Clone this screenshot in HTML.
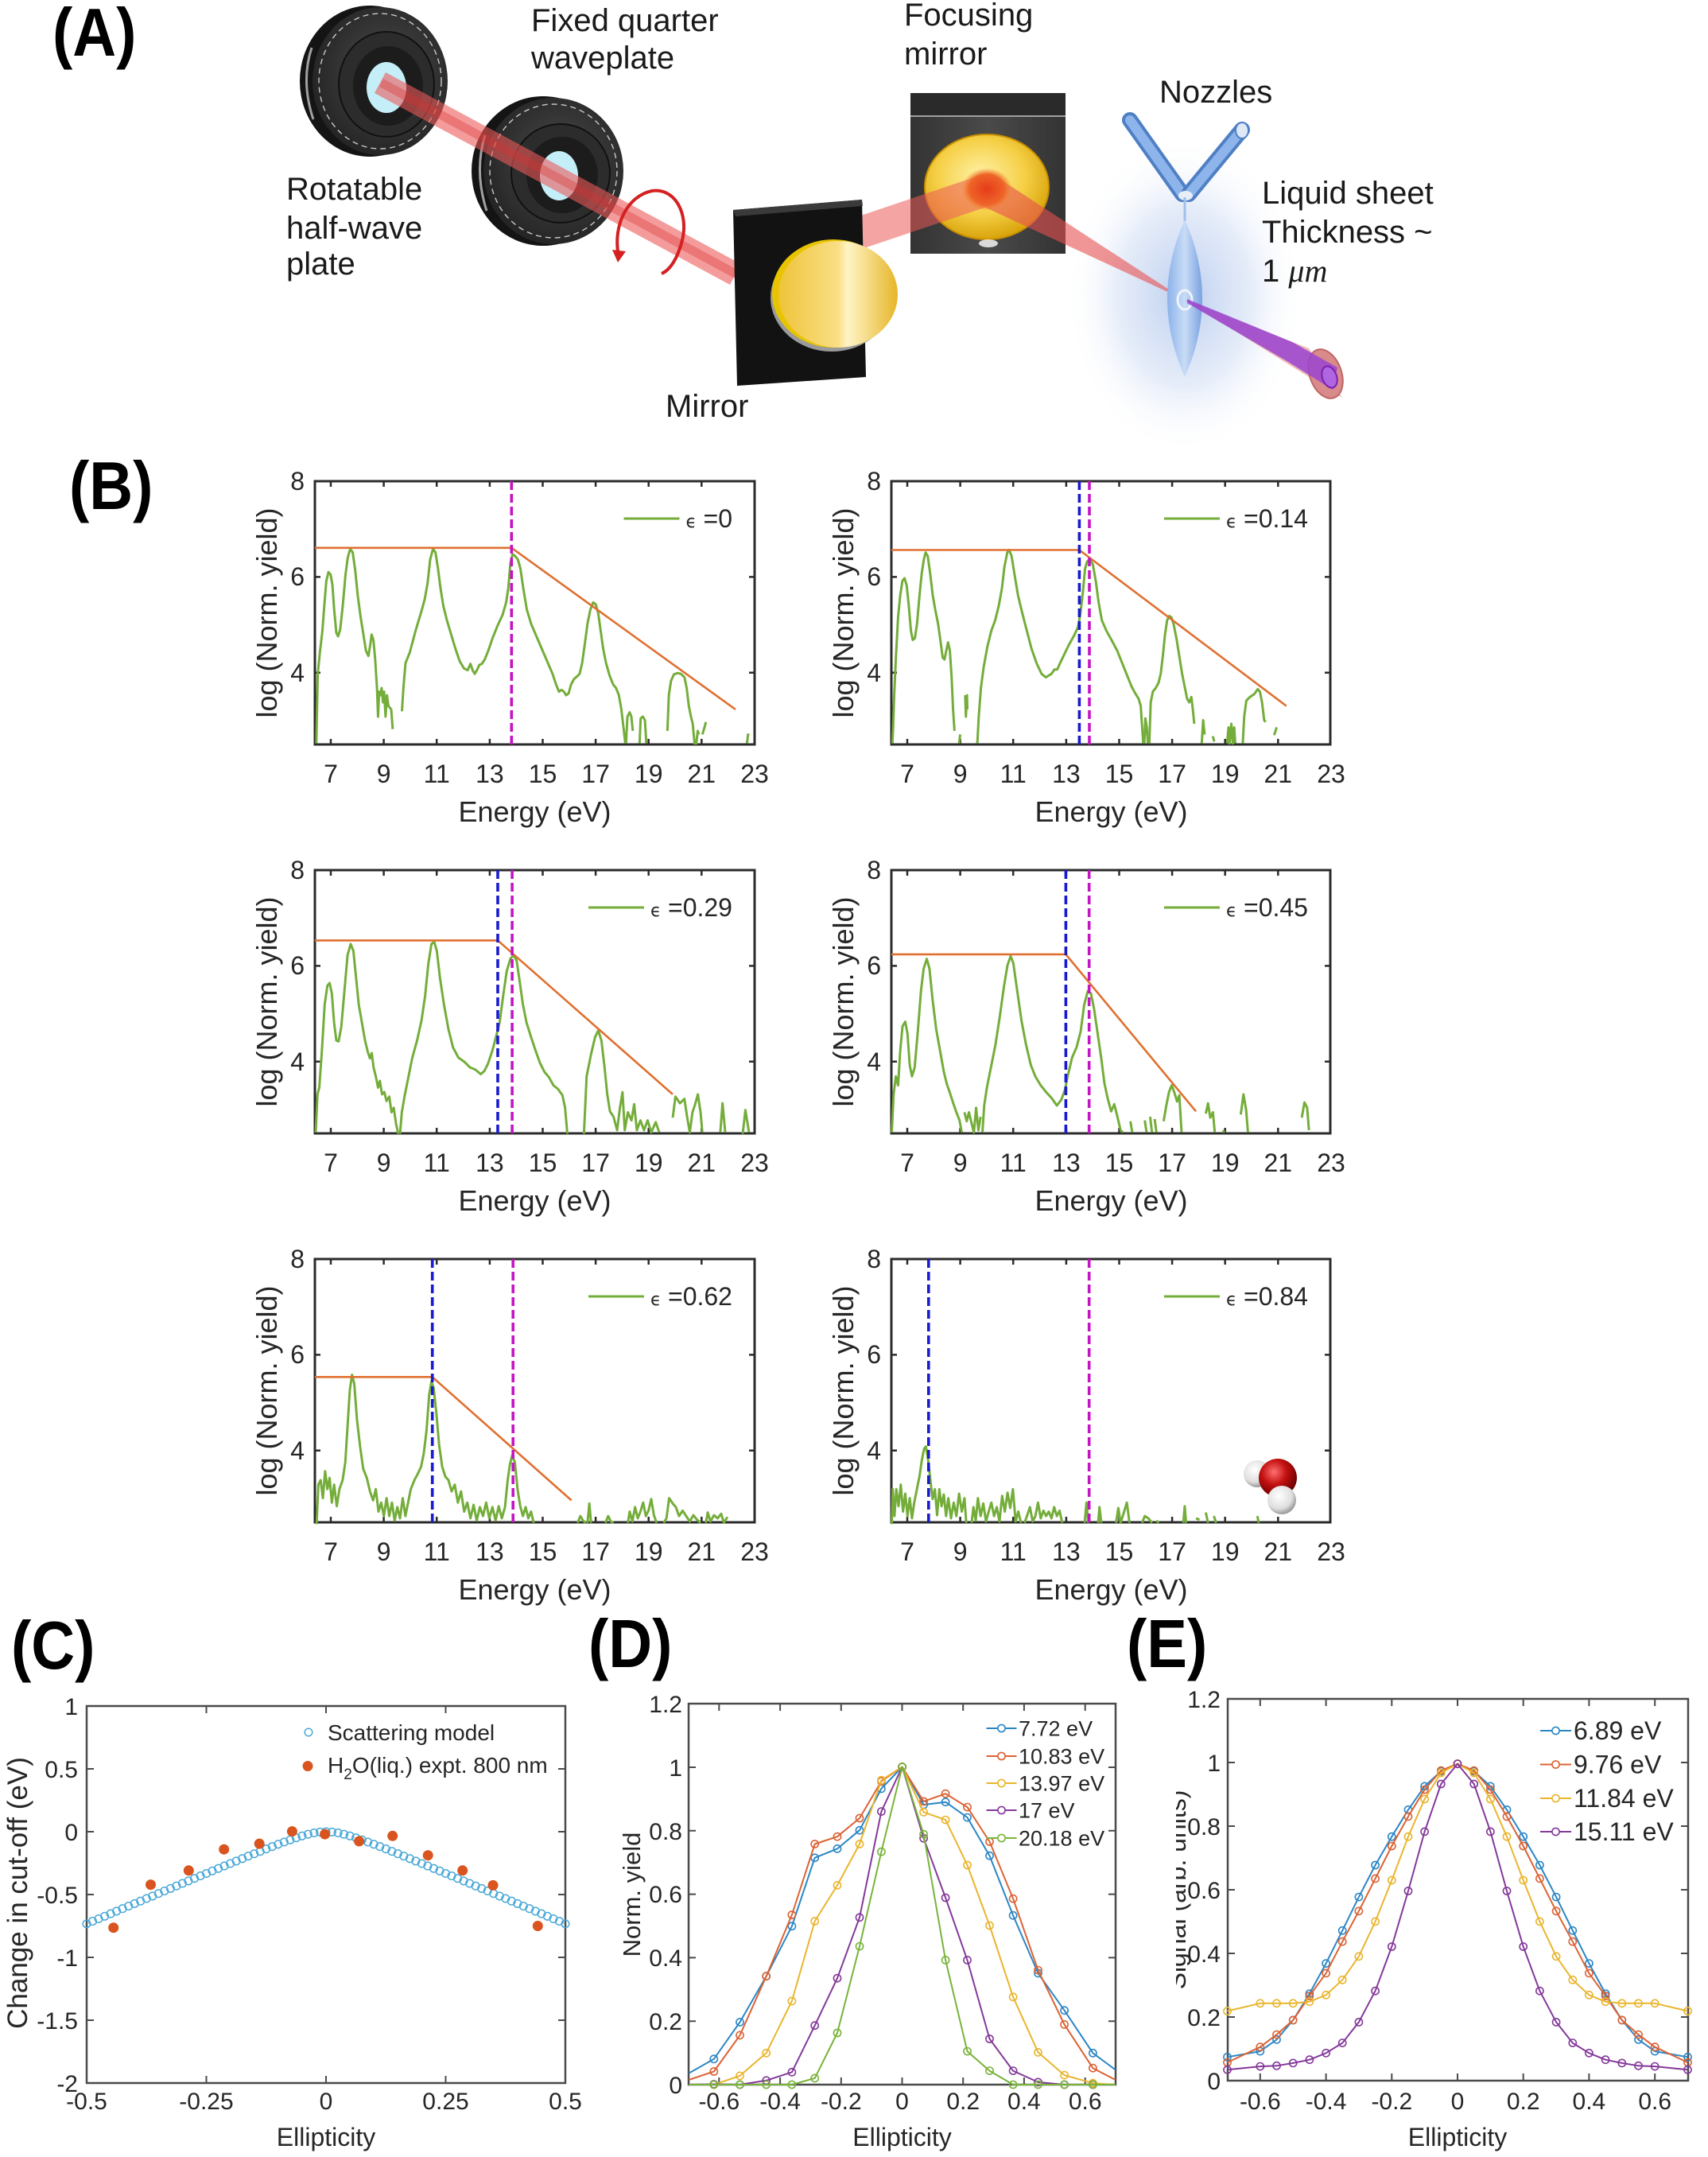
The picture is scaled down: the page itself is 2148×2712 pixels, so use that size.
<!DOCTYPE html>
<html><head><meta charset="utf-8"><style>html,body{margin:0;padding:0;background:#fff}svg{display:block}</style></head>
<body>
<svg xmlns="http://www.w3.org/2000/svg" width="2148" height="2712" viewBox="0 0 2148 2712" font-family="'Liberation Sans', Arial, sans-serif">
<defs>
<radialGradient id="glow" cx="0.5" cy="0.5" r="0.5"><stop offset="0" stop-color="#b7cbee" stop-opacity="0.95"/><stop offset="0.55" stop-color="#d3dff5" stop-opacity="0.6"/><stop offset="1" stop-color="#ffffff" stop-opacity="0"/></radialGradient>
<radialGradient id="gold1" cx="0.45" cy="0.4" r="0.6"><stop offset="0" stop-color="#fff2a8"/><stop offset="0.6" stop-color="#f5cf45"/><stop offset="1" stop-color="#d9a40c"/></radialGradient>
<linearGradient id="gold2" x1="0" y1="0" x2="1" y2="0"><stop offset="0" stop-color="#efc43a"/><stop offset="0.5" stop-color="#f9df85"/><stop offset="0.58" stop-color="#fff4c6"/><stop offset="1" stop-color="#e6b628"/></linearGradient>
<radialGradient id="disk" cx="0.55" cy="0.45" r="0.6"><stop offset="0" stop-color="#4d4d4d"/><stop offset="1" stop-color="#222"/></radialGradient>
<radialGradient id="oxy" cx="0.4" cy="0.35" r="0.65"><stop offset="0" stop-color="#ff7070"/><stop offset="0.5" stop-color="#c41010"/><stop offset="1" stop-color="#6a0000"/></radialGradient>
<radialGradient id="hyd" cx="0.4" cy="0.35" r="0.65"><stop offset="0" stop-color="#ffffff"/><stop offset="0.7" stop-color="#dedede"/><stop offset="1" stop-color="#9a9a9a"/></radialGradient>
<radialGradient id="spot"><stop offset="0" stop-color="#e63c1a"/><stop offset="0.7" stop-color="#ee6428"/><stop offset="1" stop-color="#f08a30" stop-opacity="0"/></radialGradient>
<linearGradient id="sheet" x1="0" y1="0" x2="1" y2="0"><stop offset="0" stop-color="#8cb2ea"/><stop offset="0.5" stop-color="#c8dcf6"/><stop offset="1" stop-color="#7aa3e0"/></linearGradient>
<linearGradient id="box" x1="0" y1="0" x2="1" y2="0"><stop offset="0" stop-color="#333"/><stop offset="0.5" stop-color="#4a4a4a"/><stop offset="1" stop-color="#333"/></linearGradient>
<clipPath id="clipE"><rect x="1479" y="2100" width="100" height="520"/></clipPath>
<marker id="mC" markerUnits="userSpaceOnUse" markerWidth="14" markerHeight="14" refX="7" refY="7"><circle cx="7" cy="7" r="4.8" fill="none" stroke="#4aa8d8" stroke-width="1.5"/></marker>
<marker id="mB" markerUnits="userSpaceOnUse" markerWidth="14" markerHeight="14" refX="7" refY="7"><circle cx="7" cy="7" r="4.6" fill="none" stroke="#2b86c5" stroke-width="1.6"/></marker>
<marker id="mO" markerUnits="userSpaceOnUse" markerWidth="14" markerHeight="14" refX="7" refY="7"><circle cx="7" cy="7" r="4.6" fill="none" stroke="#dc6234" stroke-width="1.6"/></marker>
<marker id="mY" markerUnits="userSpaceOnUse" markerWidth="14" markerHeight="14" refX="7" refY="7"><circle cx="7" cy="7" r="4.6" fill="none" stroke="#eab52e" stroke-width="1.6"/></marker>
<marker id="mP" markerUnits="userSpaceOnUse" markerWidth="14" markerHeight="14" refX="7" refY="7"><circle cx="7" cy="7" r="4.6" fill="none" stroke="#84399a" stroke-width="1.6"/></marker>
<marker id="mG" markerUnits="userSpaceOnUse" markerWidth="14" markerHeight="14" refX="7" refY="7"><circle cx="7" cy="7" r="4.6" fill="none" stroke="#78b33a" stroke-width="1.6"/></marker>
</defs>
<rect width="2148" height="2712" fill="#fff"/>

<!-- ================= PANEL A ================= -->
<ellipse cx="1490" cy="372" rx="150" ry="200" fill="url(#glow)"/>
<!-- waveplate 1 -->
<ellipse cx="465" cy="102" rx="88" ry="95" fill="#141414"/>
<ellipse cx="478" cy="102" rx="85" ry="93" fill="url(#disk)"/>
<ellipse cx="478" cy="102" rx="77" ry="85" fill="none" stroke="#c8c8c8" stroke-width="1.4" stroke-dasharray="7 5"/>
<ellipse cx="486" cy="106" rx="60" ry="66" fill="#2c2c2c" stroke="#111" stroke-width="2"/>
<ellipse cx="488" cy="108" rx="44" ry="50" fill="#1c1c1c"/>
<ellipse cx="486" cy="110" rx="25" ry="32" fill="#c4eef8"/>
<path d="M392,60 Q378,102 394,150" fill="none" stroke="#ddd" stroke-width="3" opacity="0.7"/>
<!-- waveplate 2 -->
<ellipse cx="683" cy="215" rx="90" ry="94" fill="#141414"/>
<ellipse cx="696" cy="215" rx="88" ry="92" fill="url(#disk)"/>
<ellipse cx="696" cy="215" rx="80" ry="84" fill="none" stroke="#c8c8c8" stroke-width="1.4" stroke-dasharray="7 5"/>
<ellipse cx="705" cy="218" rx="62" ry="62" fill="#2c2c2c" stroke="#111" stroke-width="2"/>
<ellipse cx="707" cy="220" rx="45" ry="48" fill="#1c1c1c"/>
<ellipse cx="703" cy="221" rx="24" ry="31" fill="#c4eef8"/>
<path d="M610,170 Q596,215 612,265" fill="none" stroke="#ddd" stroke-width="3" opacity="0.7"/>
<!-- beam 1 -->
<polygon points="485,91 932,332 918,358 471,117" fill="#ec5a5a" opacity="0.6"/>
<polygon points="482,99 929,340 924,350 477,109" fill="#d93030" opacity="0.35"/>
<!-- circular arrow -->
<path d="M778,322 C770,282 790,246 820,240 C850,236 866,270 858,302 C852,326 842,340 832,344" fill="none" stroke="#d42020" stroke-width="4"/>
<polygon points="770,314 787,316 777,330" fill="#d42020"/>
<!-- focusing mirror -->
<rect x="1145" y="117" width="195" height="202" fill="url(#box)"/>
<rect x="1145" y="117" width="195" height="28" fill="#2a2a2a"/>
<line x1="1145" y1="146" x2="1340" y2="146" stroke="#a0a0a0" stroke-width="2"/>
<ellipse cx="1241" cy="235" rx="78" ry="66" fill="url(#gold1)"/>
<ellipse cx="1241" cy="235" rx="78" ry="66" fill="none" stroke="#c98e00" stroke-width="2"/>
<ellipse cx="1243" cy="306" rx="12" ry="5" fill="#fff" opacity="0.8"/>
<!-- beam 2 -->
<polygon points="1053,281 1234,220 1247,258 1066,319" fill="#ec5a5a" opacity="0.55"/>
<!-- beam 3 -->
<polygon points="1251,221 1231,257 1490,377" fill="#e85050" opacity="0.6"/>
<ellipse cx="1241" cy="238" rx="32" ry="27" fill="url(#spot)"/>
<!-- mirror block -->
<polygon points="922,264 1084,251 1089,474 927,485" fill="#121212"/>
<polygon points="922,264 1084,251 1085,259 925,272" fill="#3a3a3a"/>
<ellipse cx="1046" cy="374" rx="77" ry="68" fill="#9a9a9a"/>
<ellipse cx="1048" cy="369" rx="77" ry="68" fill="#e8c400"/>
<ellipse cx="1054" cy="370" rx="75" ry="67" fill="url(#gold2)"/>
<!-- nozzles -->
<line x1="1421" y1="151" x2="1487" y2="244" stroke="#4f7fc4" stroke-width="20" stroke-linecap="round"/>
<line x1="1421" y1="151" x2="1487" y2="244" stroke="#8db5ec" stroke-width="12" stroke-linecap="round"/>
<line x1="1562" y1="163" x2="1495" y2="244" stroke="#4f7fc4" stroke-width="20" stroke-linecap="round"/>
<line x1="1562" y1="163" x2="1495" y2="244" stroke="#8db5ec" stroke-width="12" stroke-linecap="round"/>
<ellipse cx="1562" cy="164" rx="8" ry="10" fill="#dfe9f8" stroke="#4f7fc4" stroke-width="2"/>
<ellipse cx="1491" cy="246" rx="9" ry="6" fill="#e8eef8"/>
<line x1="1490" y1="248" x2="1490" y2="278" stroke="#9ec0ea" stroke-width="3"/>
<!-- sheet -->
<path d="M1490,276 Q1534,375 1490,474 Q1446,375 1490,276 Z" fill="url(#sheet)"/>
<ellipse cx="1490" cy="377" rx="9" ry="12" fill="none" stroke="#eef4fc" stroke-width="3"/>
<!-- output cone -->
<polygon points="1490,377 1646,438 1688,500" fill="#e07070" opacity="0.5"/>
<ellipse cx="1667" cy="470" rx="20" ry="32" transform="rotate(-20 1667 470)" fill="#d98a8a" stroke="#c06565" stroke-width="2"/>
<polygon points="1493,376 1625,430 1682,462 1676,490 1620,455 1493,381" fill="#9a44d0" opacity="0.85"/>
<ellipse cx="1672" cy="474" rx="9" ry="14" transform="rotate(-20 1672 474)" fill="#b066e0" stroke="#7a20b0" stroke-width="2"/>

<!-- Panel A text -->
<g font-size="40" fill="#1a1a1a">
<text x="668" y="39">Fixed quarter</text>
<text x="668" y="86">waveplate</text>
<text x="1137" y="32">Focusing</text>
<text x="1137" y="81">mirror</text>
<text x="1458" y="129">Nozzles</text>
<text x="360" y="251">Rotatable</text>
<text x="360" y="300">half-wave</text>
<text x="360" y="345">plate</text>
<text x="1587" y="256">Liquid sheet</text>
<text x="1587" y="305">Thickness ~</text>
<text x="1587" y="354">1 <tspan font-family="'Liberation Serif', serif" font-style="italic">μm</tspan></text>
<text x="837" y="524">Mirror</text>
</g>

<!-- Panel labels -->
<g font-weight="bold" fill="#000" font-size="76">
<text transform="translate(66,70) scale(1,1.12)">(A)</text>
<text transform="translate(87,640) scale(1,1.12)">(B)</text>
<text transform="translate(14,2098) scale(1,1.12)">(C)</text>
<text transform="translate(740,2096) scale(1,1.12)">(D)</text>
<text transform="translate(1417,2096) scale(1,1.12)">(E)</text>
</g>

<!-- ================= PANEL B skeletons ================= -->
<g fill="#262626">
<g>
<rect x="396" y="605" width="553" height="331" fill="none" stroke="#2b2b2b" stroke-width="3"/>
<path d="M416 936v-7M482.6 936v-7M549.2 936v-7M615.9 936v-7M682.5 936v-7M749.1 936v-7M815.7 936v-7M882.3 936v-7M416 605v7M482.6 605v7M549.2 605v7M615.9 605v7M682.5 605v7M749.1 605v7M815.7 605v7M882.3 605v7M396 725.4h7M396 845.7h7M949 725.4h-7M949 845.7h-7" stroke="#2b2b2b" stroke-width="2.5"/>
<g font-size="32" text-anchor="middle"><text x="416" y="984">7</text><text x="482.6" y="984">9</text><text x="549.2" y="984">11</text><text x="615.9" y="984">13</text><text x="682.5" y="984">15</text><text x="749.1" y="984">17</text><text x="815.7" y="984">19</text><text x="882.3" y="984">21</text><text x="949" y="984">23</text></g>
<g font-size="32" text-anchor="end"><text x="383" y="616">8</text><text x="383" y="736">6</text><text x="383" y="857">4</text></g>
<text x="672.5" y="1033" font-size="36" text-anchor="middle">Energy (eV)</text>
<text transform="translate(348,770.5) rotate(-90)" font-size="36" text-anchor="middle">log (Norm. yield)</text>
</g>
<g transform="translate(725,0)">
<rect x="396" y="605" width="552" height="331" fill="none" stroke="#2b2b2b" stroke-width="3"/>
<path d="M416 936v-7M482.6 936v-7M549.2 936v-7M615.9 936v-7M682.5 936v-7M749.1 936v-7M815.7 936v-7M882.3 936v-7M416 605v7M482.6 605v7M549.2 605v7M615.9 605v7M682.5 605v7M749.1 605v7M815.7 605v7M882.3 605v7M396 725.4h7M396 845.7h7M948 725.4h-7M948 845.7h-7" stroke="#2b2b2b" stroke-width="2.5"/>
<g font-size="32" text-anchor="middle"><text x="416" y="984">7</text><text x="482.6" y="984">9</text><text x="549.2" y="984">11</text><text x="615.9" y="984">13</text><text x="682.5" y="984">15</text><text x="749.1" y="984">17</text><text x="815.7" y="984">19</text><text x="882.3" y="984">21</text><text x="949" y="984">23</text></g>
<g font-size="32" text-anchor="end"><text x="383" y="616">8</text><text x="383" y="736">6</text><text x="383" y="857">4</text></g>
<text x="672.5" y="1033" font-size="36" text-anchor="middle">Energy (eV)</text>
<text transform="translate(348,770.5) rotate(-90)" font-size="36" text-anchor="middle">log (Norm. yield)</text>
</g>
<g transform="translate(0,489)">
<rect x="396" y="605" width="553" height="331" fill="none" stroke="#2b2b2b" stroke-width="3"/>
<path d="M416 936v-7M482.6 936v-7M549.2 936v-7M615.9 936v-7M682.5 936v-7M749.1 936v-7M815.7 936v-7M882.3 936v-7M416 605v7M482.6 605v7M549.2 605v7M615.9 605v7M682.5 605v7M749.1 605v7M815.7 605v7M882.3 605v7M396 725.4h7M396 845.7h7M949 725.4h-7M949 845.7h-7" stroke="#2b2b2b" stroke-width="2.5"/>
<g font-size="32" text-anchor="middle"><text x="416" y="984">7</text><text x="482.6" y="984">9</text><text x="549.2" y="984">11</text><text x="615.9" y="984">13</text><text x="682.5" y="984">15</text><text x="749.1" y="984">17</text><text x="815.7" y="984">19</text><text x="882.3" y="984">21</text><text x="949" y="984">23</text></g>
<g font-size="32" text-anchor="end"><text x="383" y="616">8</text><text x="383" y="736">6</text><text x="383" y="857">4</text></g>
<text x="672.5" y="1033" font-size="36" text-anchor="middle">Energy (eV)</text>
<text transform="translate(348,770.5) rotate(-90)" font-size="36" text-anchor="middle">log (Norm. yield)</text>
</g>
<g transform="translate(725,489)">
<rect x="396" y="605" width="552" height="331" fill="none" stroke="#2b2b2b" stroke-width="3"/>
<path d="M416 936v-7M482.6 936v-7M549.2 936v-7M615.9 936v-7M682.5 936v-7M749.1 936v-7M815.7 936v-7M882.3 936v-7M416 605v7M482.6 605v7M549.2 605v7M615.9 605v7M682.5 605v7M749.1 605v7M815.7 605v7M882.3 605v7M396 725.4h7M396 845.7h7M948 725.4h-7M948 845.7h-7" stroke="#2b2b2b" stroke-width="2.5"/>
<g font-size="32" text-anchor="middle"><text x="416" y="984">7</text><text x="482.6" y="984">9</text><text x="549.2" y="984">11</text><text x="615.9" y="984">13</text><text x="682.5" y="984">15</text><text x="749.1" y="984">17</text><text x="815.7" y="984">19</text><text x="882.3" y="984">21</text><text x="949" y="984">23</text></g>
<g font-size="32" text-anchor="end"><text x="383" y="616">8</text><text x="383" y="736">6</text><text x="383" y="857">4</text></g>
<text x="672.5" y="1033" font-size="36" text-anchor="middle">Energy (eV)</text>
<text transform="translate(348,770.5) rotate(-90)" font-size="36" text-anchor="middle">log (Norm. yield)</text>
</g>
<g transform="translate(0,978)">
<rect x="396" y="605" width="553" height="331" fill="none" stroke="#2b2b2b" stroke-width="3"/>
<path d="M416 936v-7M482.6 936v-7M549.2 936v-7M615.9 936v-7M682.5 936v-7M749.1 936v-7M815.7 936v-7M882.3 936v-7M416 605v7M482.6 605v7M549.2 605v7M615.9 605v7M682.5 605v7M749.1 605v7M815.7 605v7M882.3 605v7M396 725.4h7M396 845.7h7M949 725.4h-7M949 845.7h-7" stroke="#2b2b2b" stroke-width="2.5"/>
<g font-size="32" text-anchor="middle"><text x="416" y="984">7</text><text x="482.6" y="984">9</text><text x="549.2" y="984">11</text><text x="615.9" y="984">13</text><text x="682.5" y="984">15</text><text x="749.1" y="984">17</text><text x="815.7" y="984">19</text><text x="882.3" y="984">21</text><text x="949" y="984">23</text></g>
<g font-size="32" text-anchor="end"><text x="383" y="616">8</text><text x="383" y="736">6</text><text x="383" y="857">4</text></g>
<text x="672.5" y="1033" font-size="36" text-anchor="middle">Energy (eV)</text>
<text transform="translate(348,770.5) rotate(-90)" font-size="36" text-anchor="middle">log (Norm. yield)</text>
</g>
<g transform="translate(725,978)">
<rect x="396" y="605" width="552" height="331" fill="none" stroke="#2b2b2b" stroke-width="3"/>
<path d="M416 936v-7M482.6 936v-7M549.2 936v-7M615.9 936v-7M682.5 936v-7M749.1 936v-7M815.7 936v-7M882.3 936v-7M416 605v7M482.6 605v7M549.2 605v7M615.9 605v7M682.5 605v7M749.1 605v7M815.7 605v7M882.3 605v7M396 725.4h7M396 845.7h7M948 725.4h-7M948 845.7h-7" stroke="#2b2b2b" stroke-width="2.5"/>
<g font-size="32" text-anchor="middle"><text x="416" y="984">7</text><text x="482.6" y="984">9</text><text x="549.2" y="984">11</text><text x="615.9" y="984">13</text><text x="682.5" y="984">15</text><text x="749.1" y="984">17</text><text x="815.7" y="984">19</text><text x="882.3" y="984">21</text><text x="949" y="984">23</text></g>
<g font-size="32" text-anchor="end"><text x="383" y="616">8</text><text x="383" y="736">6</text><text x="383" y="857">4</text></g>
<text x="672.5" y="1033" font-size="36" text-anchor="middle">Energy (eV)</text>
<text transform="translate(348,770.5) rotate(-90)" font-size="36" text-anchor="middle">log (Norm. yield)</text>
</g>
</g>

<!-- legends B -->
<g fill="#262626">
<line x1="784.5" y1="652" x2="854.5" y2="652" stroke="#74ad3a" stroke-width="3"/><text x="862.5" y="663" font-size="22" font-family="'DejaVu Sans', sans-serif">ϵ</text><text x="884.5" y="663" font-size="32">=0</text>
<line x1="1464" y1="652" x2="1534" y2="652" stroke="#74ad3a" stroke-width="3"/><text x="1542" y="663" font-size="22" font-family="'DejaVu Sans', sans-serif">ϵ</text><text x="1564" y="663" font-size="32">=0.14</text>
<line x1="740" y1="1141" x2="810" y2="1141" stroke="#74ad3a" stroke-width="3"/><text x="818" y="1152" font-size="22" font-family="'DejaVu Sans', sans-serif">ϵ</text><text x="840" y="1152" font-size="32">=0.29</text>
<line x1="1464" y1="1141" x2="1534" y2="1141" stroke="#74ad3a" stroke-width="3"/><text x="1542" y="1152" font-size="22" font-family="'DejaVu Sans', sans-serif">ϵ</text><text x="1564" y="1152" font-size="32">=0.45</text>
<line x1="740" y1="1630" x2="810" y2="1630" stroke="#74ad3a" stroke-width="3"/><text x="818" y="1641" font-size="22" font-family="'DejaVu Sans', sans-serif">ϵ</text><text x="840" y="1641" font-size="32">=0.62</text>
<line x1="1464" y1="1630" x2="1534" y2="1630" stroke="#74ad3a" stroke-width="3"/><text x="1542" y="1641" font-size="22" font-family="'DejaVu Sans', sans-serif">ϵ</text><text x="1564" y="1641" font-size="32">=0.84</text>
</g>

<!-- B1 curve -->
<g transform="translate(300,560) scale(0.4487)" fill="none" stroke="#74ad3a" stroke-width="6.7" stroke-linejoin="round">
<polyline points="218,835 222,640 228,580 235,520 241,440 246,380 252,355 258,362 263,390 268,460 274,525 279,535 285,515 292,450 300,360 306,315 313,290 320,300 327,350 334,420 342,480 350,530 357,575 364,590 369,560 373,530 378,545 383,600 388,680 391,760 394,690 398,700 401,680 405,720 408,690 412,760 416,700 420,730 424,735 428,740 432,795"/>
<polyline points="458,745 462,680 468,610 474,595 480,580 488,550 496,520 505,490 514,460 522,430 530,385 537,320 545,290 552,300 559,345 566,400 574,450 584,490 596,530 608,570 620,605 632,625 642,630 650,612 656,630 662,640 668,630 675,615 682,612 690,600 700,575 712,540 726,505 740,475 750,440 756,400 762,330 768,305 775,310 783,320 790,345 798,400 808,460 820,500 835,535 850,570 865,605 880,640 890,670 898,690 905,685 912,690 918,700 925,695 932,670 940,655 948,648 956,640 963,610 970,560 978,500 986,460 994,440 1001,445 1008,470 1015,520 1022,570 1030,610 1040,645 1050,670 1058,680 1066,700 1073,740 1080,800 1084,835"/>
<polyline points="1086,835 1090,760 1096,748 1101,760 1105,800"/>
<polyline points="1124,835 1127,765 1133,760 1139,770 1143,835"/>
<polyline points="1202,800 1206,700 1212,660 1220,642 1230,638 1240,640 1250,650 1256,680 1262,730 1268,760 1273,780 1278,835 1283,835 1287,800 1290,810"/>
<polyline points="1300,810 1306,790 1310,775"/>
<polyline points="1425,835 1428,810 1431,812"/>
</g>
<!-- B2 curve -->
<g transform="translate(1020,560) scale(0.4487)" fill="none" stroke="#74ad3a" stroke-width="6.7" stroke-linejoin="round">
<polyline points="228,835 230,790 233,700 238,590 244,480 250,420 256,380 262,372 268,392 274,450 280,520 285,545 291,540 297,500 304,420 310,360 316,320 321,300 327,310 334,360 341,420 348,460 356,500 363,550 369,595 374,600 379,575 384,552 389,575 394,650 398,740 402,800"/>
<polyline points="415,835 418,810"/>
<polyline points="432,700 434,760 437,700 438,740"/>
<polyline points="466,835 470,760 476,680 484,620 494,565 505,520 516,490 526,450 535,400 542,340 550,300 555,293 562,310 570,360 580,420 592,470 605,520 618,570 632,610 646,640 658,650 666,645 674,640 682,628 690,628 698,610 710,585 722,560 736,535 748,510 755,470 762,410 768,345 774,325 782,318 790,335 798,380 806,440 815,490 828,520 842,545 858,575 872,610 886,645 898,675 906,690 912,700 918,710 924,730 928,790 931,835"/>
<polyline points="934,835 937,765 941,790 944,835"/>
<polyline points="948,835 952,720 958,690 966,680 974,665 980,640 986,590 992,530 998,490 1004,478 1010,482 1016,500 1024,540 1032,590 1040,640 1048,680 1054,710 1060,720 1066,705 1070,740 1074,780"/>
<polyline points="1095,835 1099,770 1103,810"/>
<polyline points="1126,815 1130,830"/>
<polyline points="1166,835 1170,790 1173,835 1178,780 1182,835 1186,790 1189,835"/>
<polyline points="1210,835 1214,760 1220,715 1230,705 1242,697 1252,683 1258,690 1264,720 1270,770 1274,775"/>
<polyline points="1298,812 1305,790"/>
</g>
<!-- B3 curve -->
<g transform="translate(300,1060) scale(0.5641)" fill="none" stroke="#74ad3a" stroke-width="5.3" stroke-linejoin="round">
<polyline points="172,645 176,560 180,545 186,460 192,360 198,318 203,312 208,335 213,400 218,440 223,442 229,410 236,330 243,250 250,225 256,240 262,300 268,360 275,400 282,440 288,465 293,480 297,468 301,500 306,520 311,545 315,530 320,560 325,555 330,575 336,565 341,600 346,590 351,625 356,648"/>
<polyline points="360,648 364,600 370,565 378,525 387,480 398,440 408,395 416,340 423,270 430,225 436,220 442,240 449,300 458,360 468,415 478,455 490,478 504,488 516,500 528,505 540,515 548,508 556,492 566,462 575,428 582,400 590,340 598,285 606,258 613,250 620,262 627,310 634,360 642,400 652,432 662,462 672,490 682,510 692,522 702,540 712,548 722,562 728,590 733,648"/>
<polyline points="770,648 776,520 786,470 795,432 802,418 809,440 816,500 822,560 828,598 836,610 844,640 850,592 856,555 861,640 868,600 876,618 882,582 888,640 896,618 904,640 912,618 920,645 930,622 938,645"/>
<polyline points="968,612 974,565 984,580 994,570 1000,610 1006,645 1012,600 1018,582 1024,560 1030,600 1034,645"/>
<polyline points="1074,645 1079,580 1085,645"/>
<polyline points="1124,648 1130,595 1138,645"/>
</g>
<!-- B4 curve -->
<g transform="translate(1020,1060) scale(0.5641)" fill="none" stroke="#74ad3a" stroke-width="5.3" stroke-linejoin="round">
<polyline points="180,645 184,560 189,520 194,540 199,460 204,408 210,398 215,425 220,495 225,520 231,500 238,420 245,330 251,280 258,258 264,280 271,350 279,415 288,465 296,510 303,538 310,558 317,580 324,600 331,618 336,645"/>
<polyline points="342,600 347,620 352,600 358,625 363,645 368,590 373,640 378,610"/>
<polyline points="382,645 386,585 392,545 401,500 411,450 421,385 430,320 438,272 445,252 451,268 459,325 469,395 479,448 490,495 500,520 512,540 524,555 536,568 548,585 558,572 566,550 572,520 582,478 592,455 601,420 609,360 617,330 624,335 631,370 639,425 647,480 654,535 661,568 669,598 676,582 683,610 690,640 695,645"/>
<polyline points="712,620 716,645"/>
<polyline points="744,618 748,645"/>
<polyline points="756,610 760,645"/>
<polyline points="766,615 770,645"/>
<polyline points="786,620 792,585 798,555 804,540 810,556 816,576 821,562 826,645"/>
<polyline points="880,603 885,580 890,612 896,600 900,645"/>
<polyline points="918,640 922,645"/>
<polyline points="958,605 964,560 970,595 974,645"/>
<polyline points="1094,612 1100,578 1106,590 1110,640"/>
</g>
<!-- B5 curve -->
<g transform="translate(300,1060) scale(0.5641)" fill="none" stroke="#74ad3a" stroke-width="5.3" stroke-linejoin="round">
<polyline points="174,1518 178,1430 183,1420 188,1460 193,1400 198,1440 203,1415 208,1470 213,1430 219,1478 225,1440 232,1420 238,1380 243,1300 248,1220 253,1185 258,1205 264,1285 271,1345 278,1395 286,1415 293,1445 300,1465 306,1440 312,1490 318,1470 324,1500 330,1460 336,1500 342,1470 348,1510 354,1480 360,1505 366,1460 372,1500 378,1470 384,1440 392,1420 400,1405 407,1390 413,1360 419,1310 425,1230 430,1200 435,1215 441,1270 447,1340 454,1390 461,1412 468,1420 475,1445 482,1430 489,1470 496,1445 503,1490 510,1470 517,1505 524,1475 531,1510 538,1480 545,1500 552,1470 559,1505 566,1480 573,1510 580,1478 587,1505 594,1480 600,1420 605,1385 610,1365 616,1380 622,1440 628,1478 634,1500 640,1480 646,1505 652,1490 658,1515"/>
<polyline points="756,1515 762,1500 768,1510 774,1515"/>
<polyline points="778,1515 782,1472 786,1515"/>
<polyline points="818,1515 824,1500 830,1512 836,1515"/>
<polyline points="868,1515 872,1490 878,1512 884,1480 890,1505 896,1490 902,1470 908,1500 914,1488 920,1462 926,1498 932,1515"/>
<polyline points="948,1515 954,1505 960,1460 968,1472 975,1480 982,1500 990,1488 998,1500 1006,1512 1014,1498 1022,1508 1030,1515"/>
<polyline points="1042,1515 1046,1492 1052,1512 1060,1498 1068,1505 1076,1495 1082,1515 1090,1502"/>
</g>
<!-- B6 curve -->
<g transform="translate(1020,1060) scale(0.5641)" fill="none" stroke="#74ad3a" stroke-width="5.3" stroke-linejoin="round">
<polyline points="180,1518 182,1440 186,1500 190,1440 195,1478 200,1430 205,1490 210,1450 215,1500 220,1460 225,1505 230,1470 236,1440 242,1410 247,1375 252,1350 256,1345 261,1375 266,1420 271,1462 276,1440 281,1498 286,1440 291,1478 296,1452 301,1500 306,1460 312,1505 318,1470 324,1500 330,1450 336,1490 342,1460 346,1515"/>
<polyline points="358,1515 362,1480 367,1510 372,1460 378,1500 384,1472 390,1512 396,1490 402,1470 408,1500 414,1480 420,1512 426,1455 432,1490 438,1448 444,1482 450,1440 456,1512 462,1490 468,1515"/>
<polyline points="476,1515 482,1498 488,1480 494,1512 500,1500 506,1470 512,1505 518,1488 524,1500 530,1490 536,1505 542,1480 548,1500 554,1488 560,1515"/>
<polyline points="610,1515 614,1470 618,1515"/>
<polyline points="640,1515 643,1480 647,1515"/>
<polyline points="680,1515 685,1482 690,1515 698,1490 704,1470 710,1515"/>
<polyline points="738,1515 744,1500 752,1505 760,1515"/>
<polyline points="770,1510 775,1515"/>
<polyline points="830,1515 833,1478 836,1515"/>
<polyline points="858,1505 866,1508"/>
<polyline points="880,1492 885,1515"/>
<polyline points="898,1500 903,1515"/>
<polyline points="995,1500 998,1515"/>
</g>

<!-- orange fits -->
<g fill="none" stroke="#e07030" stroke-width="2.6">
<polyline points="396,688.8 643.3,688.8 925,892"/>
<polyline points="1121,691.5 1357.4,691.5 1617.7,887.6"/>
<polyline points="396,1182.4 626,1182.4 846,1375.9"/>
<polyline points="1121,1199.9 1340.4,1199.9 1504,1397.3"/>
<polyline points="396,1731.3 543.7,1731.3 718.6,1886.4"/>
</g>
<!-- dashed verticals -->
<g fill="none" stroke-width="3.6" stroke-dasharray="11 5">
<line x1="643.3" y1="605" x2="643.3" y2="936" stroke="#c414c4"/>
<line x1="1357.4" y1="605" x2="1357.4" y2="936" stroke="#1a1ad0"/>
<line x1="1370" y1="605" x2="1370" y2="936" stroke="#c414c4"/>
<line x1="626" y1="1094" x2="626" y2="1425" stroke="#1a1ad0"/>
<line x1="644.1" y1="1094" x2="644.1" y2="1425" stroke="#c414c4"/>
<line x1="1340.4" y1="1094" x2="1340.4" y2="1425" stroke="#1a1ad0"/>
<line x1="1369.7" y1="1094" x2="1369.7" y2="1425" stroke="#c414c4"/>
<line x1="543.7" y1="1583" x2="543.7" y2="1914" stroke="#1a1ad0"/>
<line x1="645.2" y1="1583" x2="645.2" y2="1914" stroke="#c414c4"/>
<line x1="1167.8" y1="1583" x2="1167.8" y2="1914" stroke="#1a1ad0"/>
<line x1="1369.7" y1="1583" x2="1369.7" y2="1914" stroke="#c414c4"/>
</g>
<!-- molecule -->
<circle cx="1581" cy="1853" r="17" fill="url(#hyd)"/>
<circle cx="1607" cy="1858" r="24" fill="url(#oxy)"/>
<circle cx="1612" cy="1886" r="18" fill="url(#hyd)"/>

<!-- ================= PANEL C ================= -->
<g fill="#262626">
<rect x="109" y="2145" width="602" height="474" fill="none" stroke="#4a4a4a" stroke-width="2.5"/>
<path d="M259.5 2619v-9M410 2619v-9M560.5 2619v-9M259.5 2145v9M410 2145v9M560.5 2145v9M109 2224h9M109 2303h9M109 2382h9M109 2461h9M109 2540h9M711 2224h-9M711 2303h-9M711 2382h-9M711 2461h-9M711 2540h-9" stroke="#4a4a4a" stroke-width="2"/>
<g font-size="30" text-anchor="middle"><text x="109" y="2652">-0.5</text><text x="259.5" y="2652">-0.25</text><text x="410" y="2652">0</text><text x="560.5" y="2652">0.25</text><text x="711" y="2652">0.5</text></g>
<g font-size="30" text-anchor="end"><text x="98" y="2156">1</text><text x="98" y="2235">0.5</text><text x="98" y="2314">0</text><text x="98" y="2393">-0.5</text><text x="98" y="2472">-1</text><text x="98" y="2551">-1.5</text><text x="98" y="2630">-2</text></g>
<text x="410" y="2698" font-size="32" text-anchor="middle">Ellipticity</text>
<text transform="translate(34,2380) rotate(-90)" font-size="35" text-anchor="middle">Change in cut-off  (eV)</text>
</g>
<polyline fill="none" stroke="none" marker-start="url(#mC)" marker-mid="url(#mC)" marker-end="url(#mC)" points="109,2418.8 116.5,2415.6 124,2412.5 131.6,2409.3 139.1,2406.1 146.6,2402.9 154.1,2399.7 161.7,2396.6 169.2,2393.4 176.7,2390.2 184.3,2387 191.8,2383.9 199.3,2380.7 206.8,2377.5 214.4,2374.4 221.9,2371.2 229.4,2368 236.9,2364.9 244.5,2361.7 252,2358.6 259.5,2355.5 267,2352.3 274.6,2349.2 282.1,2346.1 289.6,2343 297.1,2339.9 304.7,2336.8 312.2,2333.7 319.7,2330.7 327.2,2327.7 334.8,2324.7 342.3,2321.7 349.8,2318.8 357.3,2316 364.9,2313.3 372.4,2310.7 379.9,2308.3 387.4,2306.2 395,2304.5 402.5,2303.4 410,2303 417.5,2303.4 425.1,2304.5 432.6,2306.2 440.1,2308.3 447.6,2310.7 455.2,2313.3 462.7,2316 470.2,2318.8 477.7,2321.7 485.3,2324.7 492.8,2327.7 500.3,2330.7 507.8,2333.7 515.4,2336.8 522.9,2339.9 530.4,2343 537.9,2346.1 545.5,2349.2 553,2352.3 560.5,2355.5 568,2358.6 575.6,2361.7 583.1,2364.9 590.6,2368 598.1,2371.2 605.7,2374.4 613.2,2377.5 620.7,2380.7 628.2,2383.9 635.8,2387 643.3,2390.2 650.8,2393.4 658.3,2396.6 665.9,2399.7 673.4,2402.9 680.9,2406.1 688.4,2409.3 696,2412.5 703.5,2415.6 711,2418.8"/>
<g fill="#d9541e">
<circle cx="142.7" cy="2423.7" r="6.5"/><circle cx="189.5" cy="2369.6" r="6.5"/><circle cx="237.3" cy="2351.8" r="6.5"/><circle cx="281.7" cy="2325.2" r="6.5"/><circle cx="326.2" cy="2318.1" r="6.5"/><circle cx="367.4" cy="2302.6" r="6.5"/><circle cx="408.6" cy="2306.1" r="6.5"/><circle cx="451.6" cy="2315" r="6.5"/><circle cx="493.7" cy="2308.3" r="6.5"/><circle cx="538.2" cy="2332.7" r="6.5"/><circle cx="581.7" cy="2351.8" r="6.5"/><circle cx="620" cy="2370.4" r="6.5"/><circle cx="676.3" cy="2421.5" r="6.5"/>
<circle cx="387" cy="2220.5" r="6.5"/>
</g>
<circle cx="388" cy="2178" r="4.8" fill="none" stroke="#4aa8d8" stroke-width="1.5"/>
<g fill="#262626" font-size="28">
<text x="412" y="2188">Scattering model</text>
<text x="412" y="2229">H<tspan font-size="19" dy="8">2</tspan><tspan dy="-8">O(liq.) expt. 800 nm</tspan></text>
</g>

<!-- ================= PANEL D ================= -->
<g fill="#262626">
<rect x="866" y="2142" width="537" height="479" fill="none" stroke="#4a4a4a" stroke-width="2.5"/>
<path d="M904.3 2621v-9M981.1 2621v-9M1057.8 2621v-9M1134.5 2621v-9M1211.2 2621v-9M1287.9 2621v-9M1364.7 2621v-9M904.3 2142v9M981.1 2142v9M1057.8 2142v9M1134.5 2142v9M1211.2 2142v9M1287.9 2142v9M1364.7 2142v9M866 2541.2h9M866 2461.4h9M866 2381.6h9M866 2301.8h9M866 2222h9M1403 2541.2h-9M1403 2461.4h-9M1403 2381.6h-9M1403 2301.8h-9M1403 2222h-9" stroke="#4a4a4a" stroke-width="2"/>
<g font-size="30" text-anchor="middle"><text x="904.3" y="2652">-0.6</text><text x="981.1" y="2652">-0.4</text><text x="1057.8" y="2652">-0.2</text><text x="1134.5" y="2652">0</text><text x="1211.2" y="2652">0.2</text><text x="1287.9" y="2652">0.4</text><text x="1364.7" y="2652">0.6</text></g>
<g font-size="30" text-anchor="end"><text x="858" y="2153">1.2</text><text x="858" y="2233">1</text><text x="858" y="2313">0.8</text><text x="858" y="2392">0.6</text><text x="858" y="2472">0.4</text><text x="858" y="2552">0.2</text><text x="858" y="2632">0</text></g>
<text x="1134.5" y="2698" font-size="32" text-anchor="middle">Ellipticity</text>
<text transform="translate(805,2382) rotate(-90)" font-size="31" text-anchor="middle">Norm. yield</text>
</g>
<g fill="none" stroke-width="2" stroke-linejoin="round">
<polyline stroke="#2b86c5" marker-mid="url(#mB)" points="866.4,2606.6 897.8,2588.8 930.5,2542.4 963.7,2484.7 995.9,2421.8 1024.7,2335.8 1053,2324.4 1081,2301.2 1108.4,2248.9 1134.6,2221.5 1161.6,2269.1 1189.1,2265.7 1216.5,2285.1 1244.5,2333.2 1274.1,2408.3 1305.5,2480.9 1338.6,2527.7 1374.4,2581.3 1402.7,2602.3"/>
<polyline stroke="#dc6234" marker-mid="url(#mO)" points="866.4,2615 897.8,2604.5 930.5,2558.9 963.7,2484.7 995.9,2407.5 1024.7,2318.5 1053,2309.2 1081,2286 1108.4,2239.6 1134.6,2221.5 1161.6,2264.9 1189.1,2255.2 1216.5,2272.1 1244.5,2315.5 1274.1,2387.2 1305.5,2477.1 1338.6,2545.4 1374.4,2600.2 1402.7,2615"/>
<polyline stroke="#eab52e" marker-mid="url(#mY)" points="866.4,2621 897.8,2621 930.5,2609.9 963.7,2581.3 995.9,2515.9 1024.7,2415.5 1053,2370.4 1081,2318.5 1108.4,2238.3 1134.6,2221.5 1161.6,2278.4 1189.1,2288.1 1216.5,2345 1244.5,2421 1274.1,2510.8 1305.5,2580.4 1338.6,2609.1 1374.4,2619.2 1402.7,2621"/>
<polyline stroke="#84399a" marker-mid="url(#mP)" points="866.4,2621 897.8,2620.5 930.5,2621 963.7,2615.8 995.9,2605.3 1024.7,2546.7 1053,2487.2 1081,2410.8 1108.4,2277.6 1134.6,2221.5 1161.6,2311.3 1189.1,2386 1216.5,2464.4 1244.5,2563.5 1274.1,2603.6 1305.5,2617.9 1338.6,2621 1374.4,2621 1402.7,2621"/>
<polyline stroke="#78b33a" marker-mid="url(#mG)" points="866.4,2621 897.8,2621 930.5,2621 963.7,2621 995.9,2621 1024.7,2612.9 1053,2556 1081,2447.1 1108.4,2328.2 1134.6,2221.5 1161.6,2306.2 1189.1,2464.4 1216.5,2579.1 1244.5,2603.6 1274.1,2621 1305.5,2621 1338.6,2621 1374.4,2621 1402.7,2621"/>
</g>
<g stroke-width="2">
<line x1="1240.5" y1="2173" x2="1278.5" y2="2173" stroke="#2b86c5"/><circle cx="1259.5" cy="2173" r="4.6" fill="#fff" stroke="#2b86c5" stroke-width="1.6"/>
<line x1="1240.5" y1="2208" x2="1278.5" y2="2208" stroke="#dc6234"/><circle cx="1259.5" cy="2208" r="4.6" fill="#fff" stroke="#dc6234" stroke-width="1.6"/>
<line x1="1240.5" y1="2242" x2="1278.5" y2="2242" stroke="#eab52e"/><circle cx="1259.5" cy="2242" r="4.6" fill="#fff" stroke="#eab52e" stroke-width="1.6"/>
<line x1="1240.5" y1="2276" x2="1278.5" y2="2276" stroke="#84399a"/><circle cx="1259.5" cy="2276" r="4.6" fill="#fff" stroke="#84399a" stroke-width="1.6"/>
<line x1="1240.5" y1="2311" x2="1278.5" y2="2311" stroke="#78b33a"/><circle cx="1259.5" cy="2311" r="4.6" fill="#fff" stroke="#78b33a" stroke-width="1.6"/>
</g>
<g fill="#262626" font-size="27">
<text x="1281" y="2182.5">7.72 eV</text><text x="1281" y="2217.5">10.83 eV</text><text x="1281" y="2251.5">13.97 eV</text><text x="1281" y="2285.5">17 eV</text><text x="1281" y="2320.5">20.18 eV</text>
</g>

<!-- ================= PANEL E ================= -->
<g fill="#262626">
<rect x="1544" y="2136" width="579" height="480" fill="none" stroke="#4a4a4a" stroke-width="2.5"/>
<path d="M1584.8 2616v-9M1667.6 2616v-9M1750.3 2616v-9M1833 2616v-9M1915.7 2616v-9M1998.4 2616v-9M2081.2 2616v-9M1584.8 2136v9M1667.6 2136v9M1750.3 2136v9M1833 2136v9M1915.7 2136v9M1998.4 2136v9M2081.2 2136v9M1544 2536h9M1544 2456h9M1544 2376h9M1544 2296h9M1544 2216h9M2123 2536h-9M2123 2456h-9M2123 2376h-9M2123 2296h-9M2123 2216h-9" stroke="#4a4a4a" stroke-width="2"/>
<g font-size="30" text-anchor="middle"><text x="1584.8" y="2652">-0.6</text><text x="1667.6" y="2652">-0.4</text><text x="1750.3" y="2652">-0.2</text><text x="1833" y="2652">0</text><text x="1915.7" y="2652">0.2</text><text x="1998.4" y="2652">0.4</text><text x="2081.2" y="2652">0.6</text></g>
<g font-size="30" text-anchor="end"><text x="1535" y="2147">1.2</text><text x="1535" y="2227">1</text><text x="1535" y="2307">0.8</text><text x="1535" y="2387">0.6</text><text x="1535" y="2467">0.4</text><text x="1535" y="2547">0.2</text><text x="1535" y="2627">0</text></g>
<text x="1833" y="2698" font-size="32" text-anchor="middle">Ellipticity</text>
<g clip-path="url(#clipE)"><text transform="translate(1491,2376) rotate(-90)" font-size="32" text-anchor="middle">Signal (arb. units)</text></g>
</g>
<g fill="none" stroke-width="2" stroke-linejoin="round">
<polyline stroke="#2b86c5" marker-start="url(#mB)" marker-mid="url(#mB)" marker-end="url(#mB)" points="1543.5,2586.3 1584.8,2579.1 1605.5,2564.4 1626.2,2539.9 1646.9,2506.6 1667.6,2468.6 1688.2,2427.3 1708.9,2385.1 1729.6,2345 1750.3,2309.2 1771,2275.4 1791.6,2245.9 1812.3,2226.9 1833,2217.7 1853.7,2226.9 1874.4,2245.9 1895,2275.4 1915.7,2309.2 1936.4,2345 1957.1,2385.1 1977.8,2427.3 1998.4,2468.6 2019.1,2506.6 2039.8,2539.9 2060.5,2564.4 2081.2,2579.1 2122.5,2586.3"/>
<polyline stroke="#dc6234" marker-start="url(#mO)" marker-mid="url(#mO)" marker-end="url(#mO)" points="1543.5,2593.1 1584.8,2573.7 1605.5,2558.1 1626.2,2539.9 1646.9,2509.5 1667.6,2480.9 1688.2,2441.2 1708.9,2402.8 1729.6,2361.9 1750.3,2321 1771,2283.9 1791.6,2250.1 1812.3,2226.1 1833,2217.7 1853.7,2226.1 1874.4,2250.1 1895,2283.9 1915.7,2321 1936.4,2361.9 1957.1,2402.8 1977.8,2441.2 1998.4,2480.9 2019.1,2509.5 2039.8,2539.9 2060.5,2558.1 2081.2,2573.7 2122.5,2593.1"/>
<polyline stroke="#eab52e" marker-start="url(#mY)" marker-mid="url(#mY)" marker-end="url(#mY)" points="1543.5,2528.5 1584.8,2518.8 1605.5,2518.8 1626.2,2518.8 1646.9,2516.7 1667.6,2508.3 1688.2,2489.3 1708.9,2459.8 1729.6,2415.9 1750.3,2364 1771,2309.2 1791.6,2262 1812.3,2229 1833,2217.7 1853.7,2229 1874.4,2262 1895,2309.2 1915.7,2364 1936.4,2415.9 1957.1,2459.8 1977.8,2489.3 1998.4,2508.3 2019.1,2516.7 2039.8,2518.8 2060.5,2518.8 2081.2,2518.8 2122.5,2528.5"/>
<polyline stroke="#84399a" marker-start="url(#mP)" marker-mid="url(#mP)" marker-end="url(#mP)" points="1543.5,2602.3 1584.8,2598.1 1605.5,2597.3 1626.2,2593.9 1646.9,2589.7 1667.6,2581.3 1688.2,2568.6 1708.9,2542.4 1729.6,2503.2 1750.3,2447.5 1771,2377.5 1791.6,2302.9 1812.3,2243 1833,2217.7 1853.7,2243 1874.4,2302.9 1895,2377.5 1915.7,2447.5 1936.4,2503.2 1957.1,2542.4 1977.8,2568.6 1998.4,2581.3 2019.1,2589.7 2039.8,2593.9 2060.5,2597.3 2081.2,2598.1 2122.5,2602.3"/>
</g>
<g stroke-width="2">
<line x1="1937" y1="2176" x2="1976" y2="2176" stroke="#2b86c5"/><circle cx="1956.5" cy="2176" r="4.6" fill="#fff" stroke="#2b86c5" stroke-width="1.6"/>
<line x1="1937" y1="2218.5" x2="1976" y2="2218.5" stroke="#dc6234"/><circle cx="1956.5" cy="2218.5" r="4.6" fill="#fff" stroke="#dc6234" stroke-width="1.6"/>
<line x1="1937" y1="2261" x2="1976" y2="2261" stroke="#eab52e"/><circle cx="1956.5" cy="2261" r="4.6" fill="#fff" stroke="#eab52e" stroke-width="1.6"/>
<line x1="1937" y1="2303" x2="1976" y2="2303" stroke="#84399a"/><circle cx="1956.5" cy="2303" r="4.6" fill="#fff" stroke="#84399a" stroke-width="1.6"/>
</g>
<g fill="#262626" font-size="32">
<text x="1979" y="2187">6.89 eV</text><text x="1979" y="2229.5">9.76 eV</text><text x="1979" y="2272">11.84 eV</text><text x="1979" y="2314">15.11 eV</text>
</g>
</svg>
</body></html>
